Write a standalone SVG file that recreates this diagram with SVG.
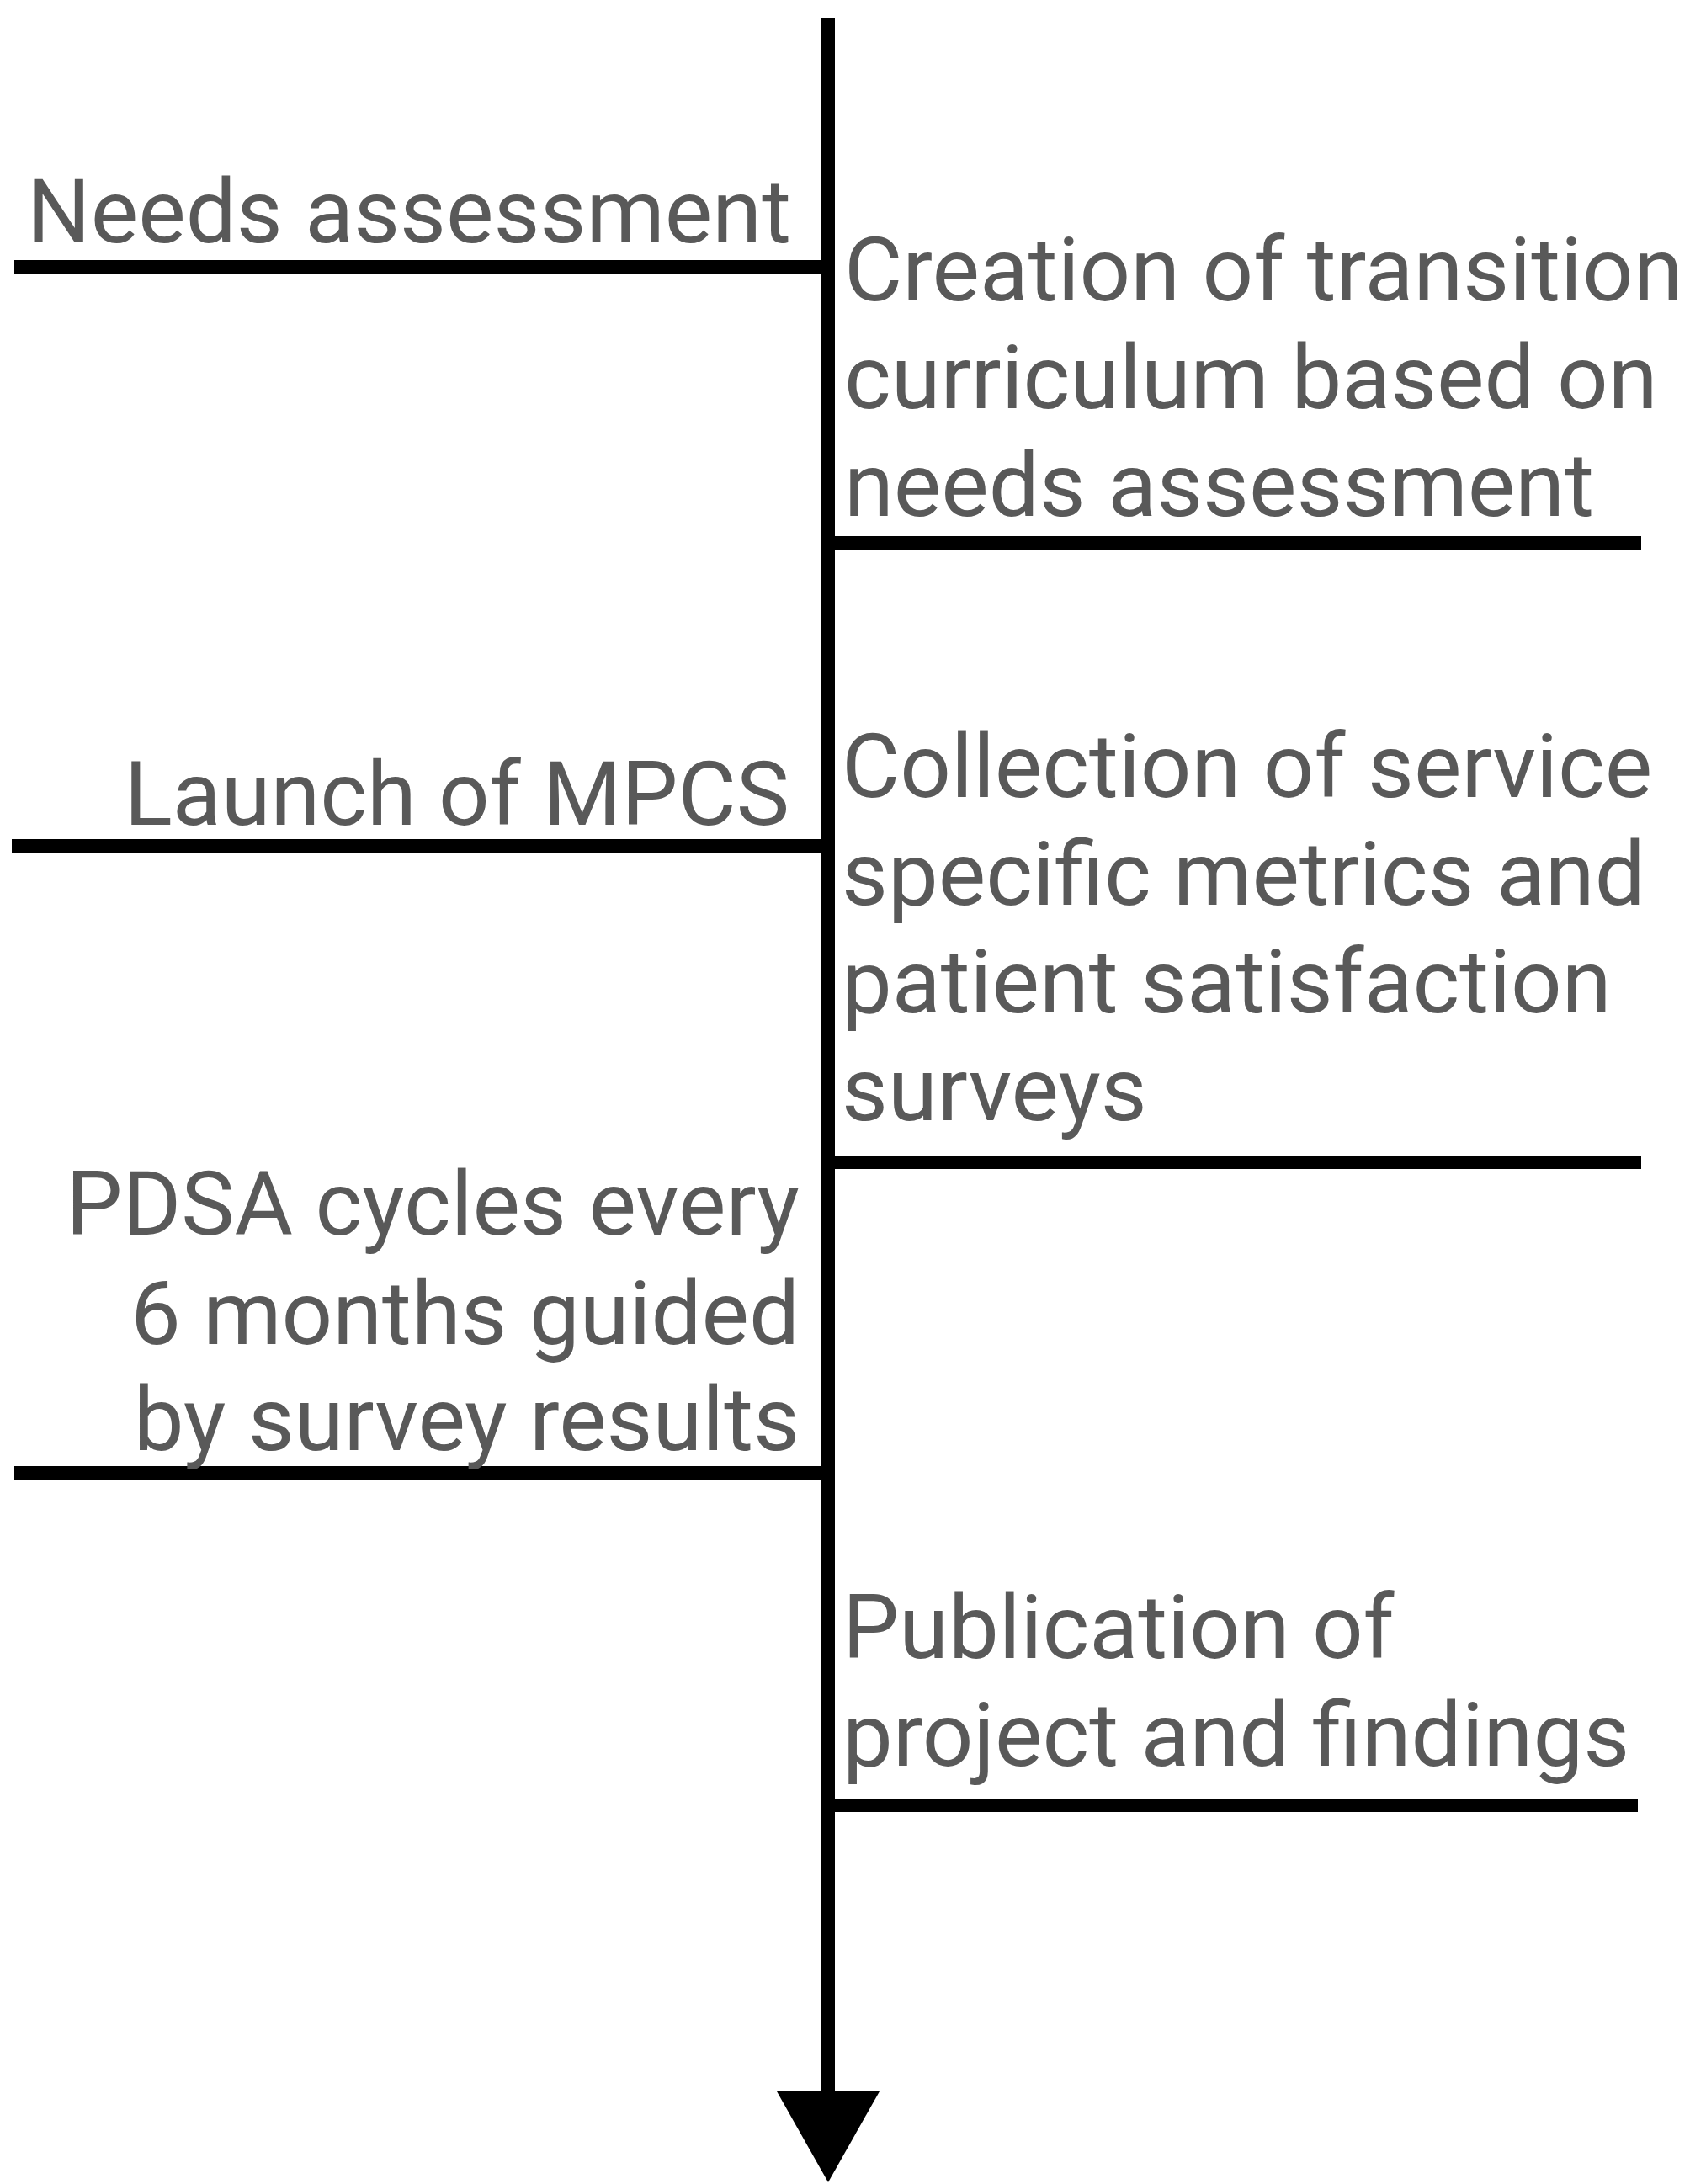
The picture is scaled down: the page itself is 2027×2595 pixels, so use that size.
<svg xmlns="http://www.w3.org/2000/svg" width="2027" height="2595" viewBox="0 0 2027 2595">
  <style>
    .lbl { font-family: Roboto, "Liberation Sans", sans-serif; font-size: 106.5px; fill: #595959; }
    .end { text-anchor: end; }
    .bar { stroke: #000; stroke-width: 16; fill: none; }
  </style>
  <rect width="2027" height="2595" fill="#fff"/>

  <!-- timeline axis with its arrowhead -->
  <g id="connectors">
    <line class="bar" x1="984" y1="21" x2="984" y2="2488"/>
    <polygon points="923,2485 1045,2485 984,2593" fill="#000"/>
  </g>

  <!-- left-hand milestones -->
  <g id="needs-assessment">
    <line class="bar" x1="17" y1="317" x2="984" y2="317"/>
    <text class="lbl end" x="940" y="288">Needs assessment</text>
  </g>
  <g id="launch-mpcs">
    <line class="bar" x1="14" y1="1005" x2="984" y2="1005"/>
    <text class="lbl end" x="938" y="980">Launch of MPCS</text>
  </g>
  <g id="pdsa-cycles">
    <line class="bar" x1="17" y1="1750" x2="984" y2="1750"/>
    <text class="lbl end" x="950" y="1467">PDSA cycles every</text>
    <text class="lbl end" x="950" y="1597">6 months guided</text>
    <text class="lbl end" x="950" y="1723">by survey results</text>
  </g>

  <!-- right-hand milestones -->
  <g id="curriculum">
    <line class="bar" x1="984" y1="645" x2="1950" y2="645"/>
    <text class="lbl" x="1003" y="357">Creation of transition</text>
    <text class="lbl" x="1003" y="485">curriculum based on</text>
    <text class="lbl" x="1003" y="613">needs assessment</text>
  </g>
  <g id="metrics-collection">
    <line class="bar" x1="984" y1="1381" x2="1950" y2="1381"/>
    <text class="lbl" x="1000" y="947">Collection of service</text>
    <text class="lbl" x="1000" y="1075">specific metrics and</text>
    <text class="lbl" x="1000" y="1203">patient satisfaction</text>
    <text class="lbl" x="1000" y="1331">surveys</text>
  </g>
  <g id="publication">
    <line class="bar" x1="984" y1="2145" x2="1946" y2="2145"/>
    <text class="lbl" x="1001" y="1970">Publication of</text>
    <text class="lbl" x="1001" y="2098">project and findings</text>
  </g>
</svg>
